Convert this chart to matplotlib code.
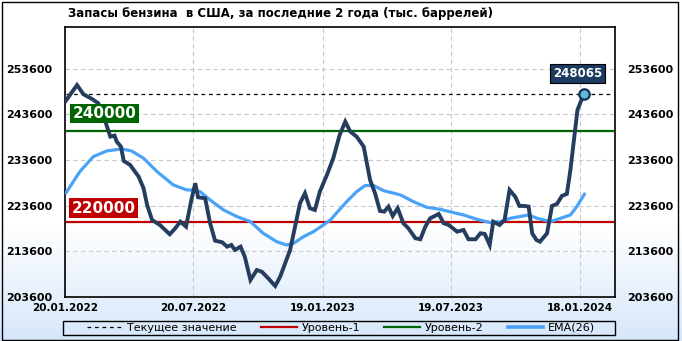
"""Weekly US gasoline stocks over the last two years, with EMA(26) and two levels."""

import matplotlib

matplotlib.use("Agg")

import matplotlib.pyplot as plt
import numpy as np
from matplotlib.lines import Line2D
from matplotlib.patches import Rectangle

# ---- data -----------------------------------------------------------------
START = np.datetime64("2022-01-20")

# days since START, stock level (thousand barrels)
stock_days = [
    1, 17, 26, 38, 47, 57, 64, 70, 73, 79, 83, 92, 104, 111, 116, 123, 134,
    148, 155, 163, 171, 178, 184, 188, 198, 205, 212, 222, 229, 235, 240, 248,
    254, 262, 271, 278, 287, 297, 304, 318, 325, 332, 339, 346, 353, 360, 370,
    379, 388, 396, 403, 412, 422, 431, 438, 445, 451, 457, 463, 470, 478, 485,
    495, 502, 509, 516, 528, 535, 542, 554, 563, 570, 580, 587, 593, 600, 605,
    614, 621, 628, 636, 642, 649, 655, 660, 666, 671, 681, 688, 695, 702, 709,
    714, 724, 733,
]
stock_vals = [
    246520, 250000, 247990, 246960, 246010, 242000, 238710, 238930, 237620,
    236520, 233380, 232510, 229950, 227400, 223750, 220460, 219370, 217330,
    218490, 220090, 219000, 224480, 228500, 225430, 225210, 219740, 215930,
    215580, 214620, 214990, 213900, 214620, 212430, 207320, 209510, 209140,
    207700, 206010, 208050, 213890, 219000, 224120, 226310, 223030, 222650,
    226660, 230320, 233970, 239080, 241990, 239800, 238700, 236520, 229220,
    226310, 222430, 222280, 223380, 221340, 223030, 219740, 218650, 216460,
    216240, 219000, 220840, 221780, 219740, 219370, 217900, 218270, 216240,
    216240, 217550, 217400, 214990, 220090, 219370, 220460, 227030, 225570,
    223530, 223530, 223380, 217550, 216080, 215710, 217550, 223530, 223970,
    225720, 226160, 231410, 244550, 248065,
]

ema_days = [
    1, 21, 40, 59, 80, 94, 111, 130, 153, 172, 181, 191, 205, 224, 243, 262,
    280, 299, 313, 323, 337, 351, 365, 375, 379, 398, 412, 424, 436, 450, 474,
    492, 511, 530, 549, 563, 582, 601, 615, 629, 655, 667, 686, 700, 714, 723,
    734,
]
ema_vals = [
    226300, 231050, 234330, 235570, 236010, 235570, 233970, 231050, 228130,
    227030, 227030, 226660, 224840, 222650, 221190, 220090, 217550, 215710,
    214990, 215360, 216810, 217900, 219370, 220460, 221190, 224480, 226660,
    228000, 228000, 226880, 225940, 224480, 223240, 222800, 222060, 221560,
    220610, 219880, 220090, 220830, 221560, 220830, 220090, 220830, 221560,
    223380, 226160,
]

level_1 = 220000
level_2 = 240000
current = 248065

tick_dates = ["2022-01-20", "2022-07-20", "2023-01-19", "2023-07-19", "2024-01-18"]
tick_labels = ["20.01.2022", "20.07.2022", "19.01.2023", "19.07.2023", "18.01.2024"]
y_ticks = [203600, 213600, 223600, 233600, 243600, 253600]

TITLE = "Запасы бензина  в США, за последние 2 года (тыс. баррелей)"

# ---- style ------------------------------------------------------------------
LINE_C = "#253d5e"
EMA_C = "#4aa3f7"
RED = "#c00000"
GREEN = "#006400"

plt.rcParams["font.family"] = ["DejaVu Sans"]

W, H = 682, 341
fig = plt.figure(figsize=(W / 100, H / 100), dpi=100)

# background gradient: white on top, light blue towards the bottom
bg = fig.add_axes([0, 0, 1, 1], zorder=-10)
t = np.linspace(0, 1, 341)[:, None]
top = np.array([1.0, 1.0, 1.0])
bot = np.array([0.84, 0.905, 0.98])
k = np.clip((t - 0.66) / 0.34, 0, 1)
grad = top + (bot - top) * k[..., None]
bg.imshow(np.repeat(grad, 2, axis=1), aspect="auto", extent=[0, 1, 0, 1])
bg.set_axis_off()
bg.add_patch(Rectangle((1.5 / W, 1.5 / H), 676 / W, 338 / H, fill=False,
                       edgecolor="black", lw=1, transform=bg.transAxes))

ax = fig.add_axes([65 / W, 44 / H, 550 / W, 270 / H])
ax.set_facecolor("none")

d_stock = START + np.array(stock_days, dtype="timedelta64[D]")
d_ema = START + np.array(ema_days, dtype="timedelta64[D]")
x_lo = START + np.timedelta64(1, "D")
x_hi = START + np.timedelta64(775, "D")

ax.hlines(current, x_lo, x_hi, colors="black", lw=0.9, linestyles=(0, (3, 3)), zorder=3)
ax.hlines(level_2, x_lo, x_hi, colors=GREEN, lw=1.6, zorder=3)
ax.hlines(level_1, x_lo, x_hi, colors=RED, lw=1.6, zorder=3)

ax.plot(d_ema, ema_vals, color=EMA_C, lw=2.3, solid_capstyle="round", zorder=4)
ax.plot(d_stock, stock_vals, color=LINE_C, lw=2.8, solid_joinstyle="miter", zorder=5)
ax.plot(d_stock[-1], stock_vals[-1], "o", ms=7.5, mfc="#5db9d6", mec="#17305a",
        mew=1.6, zorder=6)

ax.annotate(f"{current}", (d_stock[-1], current), xytext=(-6, 20),
            textcoords="offset pixels", ha="center", va="center", color="white",
            fontsize=8.5, fontweight="bold", zorder=7,
            bbox=dict(boxstyle="square,pad=0.25", fc="#1d3a60", ec="black", lw=0.8))
ax.annotate(f"{level_2}", (x_lo, level_2), xytext=(7, 17), textcoords="offset pixels",
            ha="left", va="center", color="white", fontsize=11, fontweight="bold",
            zorder=7, bbox=dict(boxstyle="square,pad=0.15", fc=GREEN, ec="none"))
ax.annotate(f"{level_1}", (x_lo, level_1), xytext=(6, 14), textcoords="offset pixels",
            ha="left", va="center", color="white", fontsize=11, fontweight="bold",
            zorder=7, bbox=dict(boxstyle="square,pad=0.15", fc=RED, ec="none"))

ax.set_xlim(START, START + np.timedelta64(777, "D"))
ax.set_ylim(203600, 262700)
ax.set_xticks(np.array(tick_dates, dtype="datetime64[D]"))
ax.set_xticklabels(tick_labels)
ax.set_yticks(y_ticks)
ax.set_yticklabels([str(v) for v in y_ticks])
ax.tick_params(axis="y", length=0, pad=9, labelsize=8, labelright=True, right=False)
ax.tick_params(axis="x", length=0, pad=4, labelsize=7.5)
for lab in ax.get_xticklabels() + ax.get_yticklabels():
    lab.set_fontweight("bold")
ax.grid(True, color="#c8c8c8", lw=0.8, linestyle=(0, (4, 3)))
ax.set_axisbelow(True)
for sp in ax.spines.values():
    sp.set_color("black")
    sp.set_linewidth(1.2)

fig.text(68 / W, 1 - 13 / H, TITLE, ha="left", va="center", fontsize=8.5,
         fontweight="bold")

# legend inside a full-width frame
bg.add_patch(Rectangle((63 / W, 6 / H), 552 / W, 14 / H, fill=False,
                       edgecolor="black", lw=1, transform=bg.transAxes))
handles = [
    Line2D([], [], color="black", lw=0.9, linestyle=(0, (3, 3))),
    Line2D([], [], color=RED, lw=1.6),
    Line2D([], [], color=GREEN, lw=1.6),
    Line2D([], [], color=EMA_C, lw=2.6),
]
labels = ["Текущее значение", "Уровень-1", "Уровень-2", "EMA(26)"]
fig.legend(handles, labels, loc="center", bbox_to_anchor=(341 / W, 13 / H), ncol=4,
           frameon=False, fontsize=8, handlelength=3.2, handletextpad=0.4,
           columnspacing=2.2, borderpad=0)

fig.savefig("out.png", dpi=100)
